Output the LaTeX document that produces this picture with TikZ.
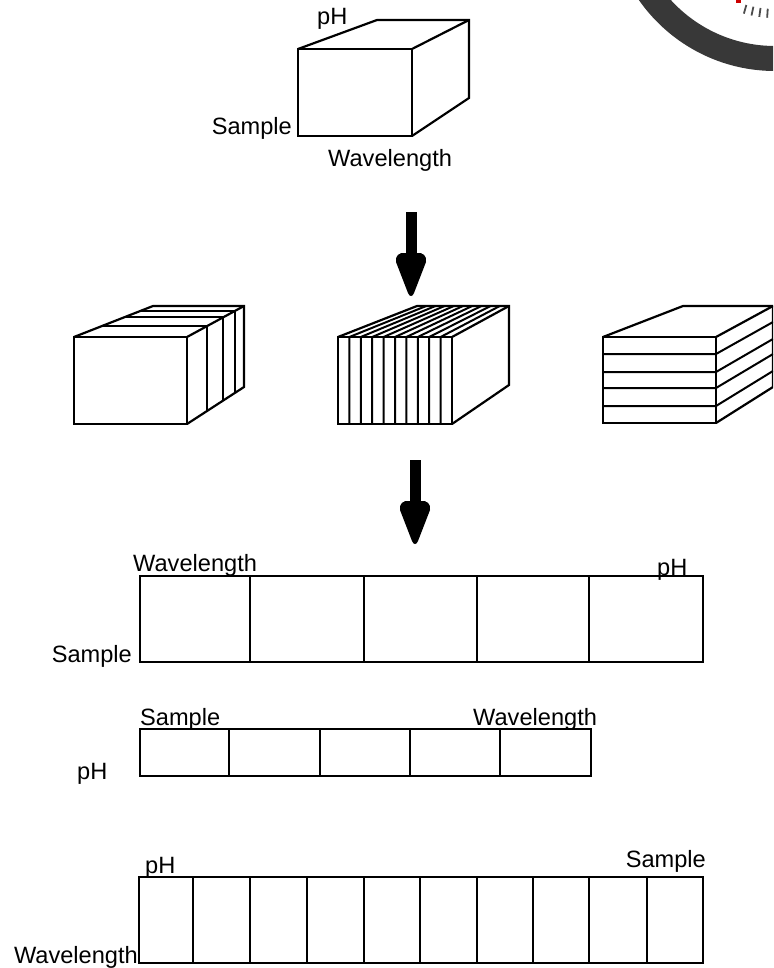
\documentclass[tikz,border=0pt]{standalone}
\usepackage{fontspec}
\setmainfont{Liberation Sans}
\usetikzlibrary{calc}
\begin{document}
\begin{tikzpicture}[x=1pt,y=-1pt,
  box/.style={line width=2.2pt, line join=miter},
  thin/.style={line width=2pt},
  lbl/.style={inner sep=0pt, font=\fontsize{23.6}{26}\selectfont},
  ring/.style={fill=black!78},
  fatarrow/.style={fill=black}]
\clip (0,0) rectangle (773,968);
\fill[white] (0,0) rectangle (773,968);

% watermark ring (top right, cropped)
\fill[ring, even odd rule] (775,-95) circle[radius=166pt] (775,-95) circle[radius=141pt];
\fill[red!80!black] (736,0) rectangle (741,3);
\foreach \a in {-106,-102,...,-84}{
  \draw[black!70, line width=1.8pt] ($(775,-95)+(\a:104pt)$) -- ($(775,-95)+(\a:113pt)$);
}

% ---------- top cube ----------
\draw[box] (298,49) rectangle (412,136);
\draw[box] (298,49) -- (377,20) -- (469,20) -- (469,98) -- (412,136);
\draw[box] (469,20) -- (412,49);
\node[lbl, anchor=base west] (tpH) at (317,25) {pH};
\node[lbl, anchor=base east] (tS) at (292,135) {Sample};
\node[lbl, anchor=base west] (tW) at (328,167) {Wavelength};

% ---------- arrows ----------
\coordinate (a1) at (411,212);
\coordinate (a2) at (415,460);
\foreach \c in {a1,a2}{
  \fill[fatarrow] ($(\c)+(-5.5,0)$) rectangle ($(\c)+(5.5,46)$);
  \fill[fatarrow] ($(\c)+(-5.5,41)$) .. controls ($(\c)+(-12,40)$) and ($(\c)+(-16,44)$) .. ($(\c)+(-15,50)$)
     -- ($(\c)+(-3,81)$) .. controls ($(\c)+(-1.5,85)$) and ($(\c)+(1.5,85)$) .. ($(\c)+(3,81)$)
     -- ($(\c)+(15,50)$) .. controls ($(\c)+(16,44)$) and ($(\c)+(12,40)$) .. ($(\c)+(5.5,41)$) -- cycle;
}

% ---------- left cube (slices in depth) ----------
\draw[box] (74,337) rectangle (187,424);
\draw[box] (74,337) -- (153,306) -- (244,306) -- (244,387) -- (187,424);
\draw[box] (244,306) -- (187,337);
\foreach \t in {0.35,0.64,0.85}{
  \draw[thin] (74+79*\t,337-31*\t) -- (187+57*\t,337-31*\t) -- (187+57*\t,424-37*\t);
}

% ---------- middle cube (slices along wavelength) ----------
\draw[box] (338,337) rectangle (452,424);
\draw[box] (338,337) -- (417,306) -- (509,306) -- (509,385) -- (452,424);
\draw[box] (509,306) -- (452,337);
\foreach \i in {1,...,9}{
  \pgfmathsetmacro\xx{338+\i*11.4}
  \pgfmathsetmacro\xb{417+(\xx-338)*92/114}
  \draw[thin] (\xx,424) -- (\xx,337) -- (\xb,306);
}

% ---------- right cube (slices along pH) ----------
\draw[box] (603,337) rectangle (716,423);
\draw[box] (603,337) -- (683,306) -- (773,306) -- (773,387) -- (716,423);
\draw[box] (773,306) -- (716,337);
\foreach \yy in {354,372,388,406}{
  \pgfmathsetmacro\yb{\yy-31-5*(\yy-337)/86}
  \draw[thin] (603,\yy) -- (716,\yy) -- (773,\yb);
}

% ---------- unfolded strip 1 ----------
\draw[box] (140,576) rectangle (703,662);
\foreach \x in {250,364,477,589}{ \draw[thin] (\x,576) -- (\x,662); }
\node[lbl, anchor=base west] (s1W) at (133,571) {Wavelength};
\node[lbl, anchor=base west] (s1P) at (657,575) {pH};
\node[lbl, anchor=base east] (s1S) at (132,662) {Sample};

% ---------- unfolded strip 2 ----------
\draw[box] (140,729) rectangle (591,776);
\foreach \x in {229,320,410,500}{ \draw[thin] (\x,729) -- (\x,776); }
\node[lbl, anchor=base west] (s2S) at (140,725) {Sample};
\node[lbl, anchor=base west] (s2W) at (473,725) {Wavelength};
\node[lbl, anchor=base west] (s2P) at (77,779) {pH};

% ---------- unfolded strip 3 ----------
\draw[box] (139,877) rectangle (703,963);
\foreach \x in {193,250,307,364,420,477,533,589,647}{ \draw[thin] (\x,877) -- (\x,963); }
\node[lbl, anchor=base west] (s3P) at (145,873) {pH};
\node[lbl, anchor=base east] (s3S) at (706,867) {Sample};
\node[lbl, anchor=base east] (s3W) at (138,963) {Wavelength};
\end{tikzpicture}
\end{document}
